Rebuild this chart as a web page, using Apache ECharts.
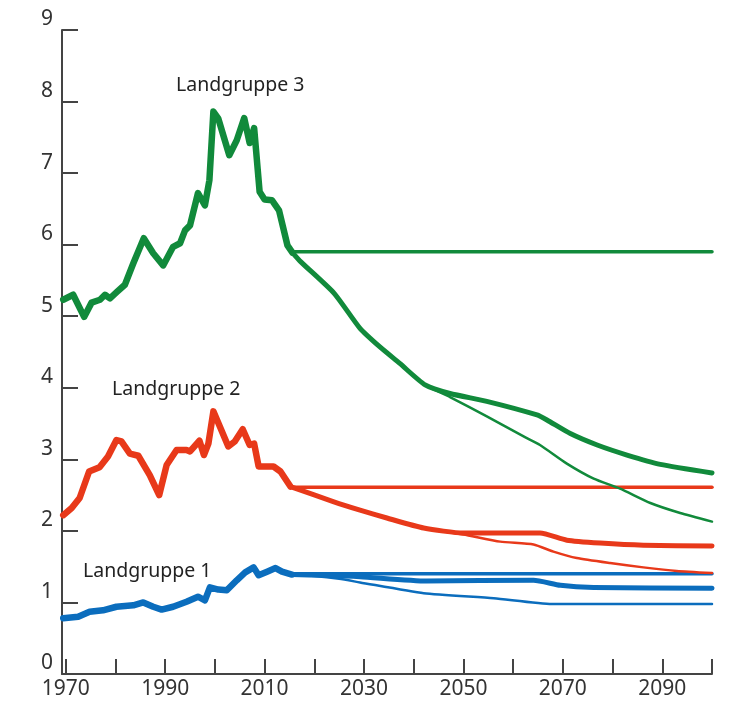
<!DOCTYPE html>
<html>
<head>
<meta charset="utf-8">
<script src="https://cdn.jsdelivr.net/npm/echarts@6/dist/echarts.min.js"></script>
<style>
  html, body { margin: 0; padding: 0; background: #fff; }
  #chart { width: 737px; height: 702px; }
</style>
</head>
<body>
<div id="chart"></div>
<script>
// Landgruppe 3 (green)
var green_hist = [[1969.5,5.23],[1971.5,5.30],[1973.7,4.99],[1975.2,5.19],[1976.9,5.23],[1977.9,5.30],[1978.9,5.25],[1980.3,5.34],[1981.9,5.44],[1983.6,5.74],[1985.7,6.09],[1987.6,5.88],[1989.6,5.71],[1991.6,5.97],[1993,6.02],[1994,6.20],[1995,6.27],[1996.6,6.72],[1998,6.55],[1998.9,6.90],[1999.7,7.86],[2000.7,7.76],[2002.9,7.25],[2004.4,7.46],[2005.9,7.77],[2007,7.42],[2007.9,7.63],[2009,6.74],[2010,6.63],[2011.5,6.62],[2012.9,6.48],[2014.6,5.99],[2015.6,5.89]];
var green_flat = [[2015.6,5.90],[2100,5.90]];
var green_high = [[2015.6,5.89],[2017.3,5.76],[2024,5.32],[2029.2,4.83],[2033.2,4.57],[2037.2,4.34],[2042.3,4.04],[2047.3,3.92],[2054.7,3.81],[2064.8,3.62],[2066.8,3.55],[2071.5,3.36],[2076.9,3.20],[2082.9,3.06],[2089.6,2.93],[2100,2.81]];
var green_low = [[2015.6,5.89],[2017.3,5.76],[2024,5.32],[2029.2,4.83],[2033.2,4.57],[2037.2,4.34],[2042.3,4.04],[2047.3,3.87],[2054.7,3.60],[2062.1,3.32],[2065.4,3.20],[2070.8,2.94],[2076.2,2.73],[2081.5,2.59],[2087.6,2.39],[2093.6,2.25],[2100,2.13]];

// Landgruppe 2 (red)
var red_hist = [[1969.5,2.22],[1971.2,2.32],[1972.8,2.46],[1974.7,2.83],[1976.8,2.89],[1978.5,3.04],[1980.2,3.27],[1981.2,3.25],[1982.9,3.08],[1984.6,3.05],[1986.9,2.78],[1988.8,2.50],[1990.3,2.92],[1992.3,3.13],[1994.3,3.13],[1995,3.11],[1996.9,3.26],[1997.8,3.06],[1998.7,3.22],[1999.7,3.67],[2001,3.46],[2002.7,3.18],[2004,3.25],[2005.6,3.42],[2007,3.20],[2007.9,3.22],[2008.8,2.90],[2011.8,2.90],[2013.2,2.83],[2015.2,2.62]];
var red_flat = [[2015.2,2.61],[2100,2.61]];
var red_high = [[2015.2,2.62],[2023.8,2.41],[2029.2,2.29],[2034.6,2.18],[2042,2.04],[2050,1.97],[2062.1,1.97],[2065.4,1.97],[2070.8,1.87],[2077.5,1.83],[2086.2,1.80],[2100,1.79]];
var red_low = [[2015.2,2.62],[2023.8,2.41],[2029.2,2.29],[2034.6,2.18],[2042,2.04],[2050,1.95],[2057.4,1.85],[2064.1,1.81],[2068.1,1.71],[2072.8,1.62],[2079.5,1.55],[2086.2,1.49],[2092.9,1.44],[2100,1.41]];

// Landgruppe 1 (blue)
var blue_hist = [[1969.5,0.78],[1972.5,0.80],[1974.8,0.87],[1977.5,0.89],[1980.2,0.94],[1983.6,0.96],[1985.6,1.00],[1987.6,0.94],[1989.3,0.90],[1991.6,0.94],[1994.3,1.01],[1996.6,1.08],[1998,1.03],[1999,1.21],[2000.7,1.18],[2002.4,1.17],[2004.4,1.31],[2006.1,1.42],[2007.8,1.49],[2008.8,1.38],[2010.5,1.43],[2012.2,1.48],[2013.5,1.43],[2015.5,1.39]];
var blue_flat = [[2015.5,1.40],[2100,1.40]];
var blue_high = [[2015.5,1.39],[2022,1.38],[2029.2,1.36],[2042.6,1.30],[2064.1,1.31],[2069.5,1.24],[2076.2,1.21],[2100,1.20]];
var blue_low = [[2015.5,1.39],[2020,1.37],[2025,1.33],[2029.2,1.28],[2042,1.13],[2056.1,1.06],[2067.8,0.98],[2100,0.98]];

var tick_years = [1970,1980,1990,2000,2010,2020,2030,2040,2050,2060,2070,2080,2090,2100];
var label_years = [1970,1990,2010,2030,2050,2070,2090];

var GREEN = '#118a3b';
var RED = '#e8391a';
var BLUE = '#0b6dbd';

var chartDom = document.getElementById('chart');
var myChart = echarts.init(chartDom, null, { renderer: 'canvas' });

function line(data, color, width, z, smooth) {
    return {
        type: 'line',
        data: data,
        showSymbol: false,
        symbol: 'none',
        silent: true,
        smooth: smooth || false,
        z: z,
        lineStyle: { color: color, width: width, cap: 'round', join: 'round' }
    };
}

var option = {
    animation: false,
    backgroundColor: '#fff',
    grid: { left: 62, right: 25, top: 30, bottom: 28 },
    xAxis: {
        type: 'value',
        min: 1969.25,
        max: 2100,
        axisLine: { show: true, lineStyle: { color: '#444', width: 2 } },
        axisTick: { show: true, inside: true, length: 15, customValues: tick_years, lineStyle: { color: '#444', width: 2 } },
        axisLabel: {
            customValues: label_years,
            margin: 5,
            fontSize: 21,
            color: '#333',
            fontFamily: 'Noto Sans',
            formatter: function (v) { return String(v); }
        },
        splitLine: { show: false }
    },
    yAxis: {
        type: 'value',
        min: 0,
        max: 9,
        interval: 1,
        axisLine: { show: true, lineStyle: { color: '#444', width: 2 } },
        axisTick: { show: true, inside: true, length: 16, lineStyle: { color: '#444', width: 2 } },
        axisLabel: { margin: 9, fontSize: 21, color: '#333', fontFamily: 'Noto Sans', verticalAlign: 'bottom' },
        splitLine: { show: false }
    },
    graphic: [
        { type: 'text', left: 176, top: 75, style: { text: 'Landgruppe 3', fontSize: 19.5, fill: '#222', fontFamily: 'Noto Sans' } },
        { type: 'text', left: 112, top: 379, style: { text: 'Landgruppe 2', fontSize: 19.5, fill: '#222', fontFamily: 'Noto Sans' } },
        { type: 'text', left: 83, top: 561, style: { text: 'Landgruppe 1', fontSize: 19.5, fill: '#222', fontFamily: 'Noto Sans' } }
    ],
    series: [
        line(green_flat, GREEN, 3.5, 2),
        line(green_low, GREEN, 2.5, 3, 0.2),
        line(green_high, GREEN, 5, 4, 0.2),
        line(green_hist, GREEN, 6.5, 5),
        line(red_flat, RED, 3.5, 2),
        line(red_low, RED, 2.5, 3, 0.2),
        line(red_high, RED, 5, 4, 0.2),
        line(red_hist, RED, 6.5, 5),
        line(blue_flat, BLUE, 3.5, 2),
        line(blue_low, BLUE, 2.5, 3, 0.2),
        line(blue_high, BLUE, 5, 4, 0.2),
        line(blue_hist, BLUE, 6.5, 5)
    ]
};

option && myChart.setOption(option);
</script>
</body>
</html>
